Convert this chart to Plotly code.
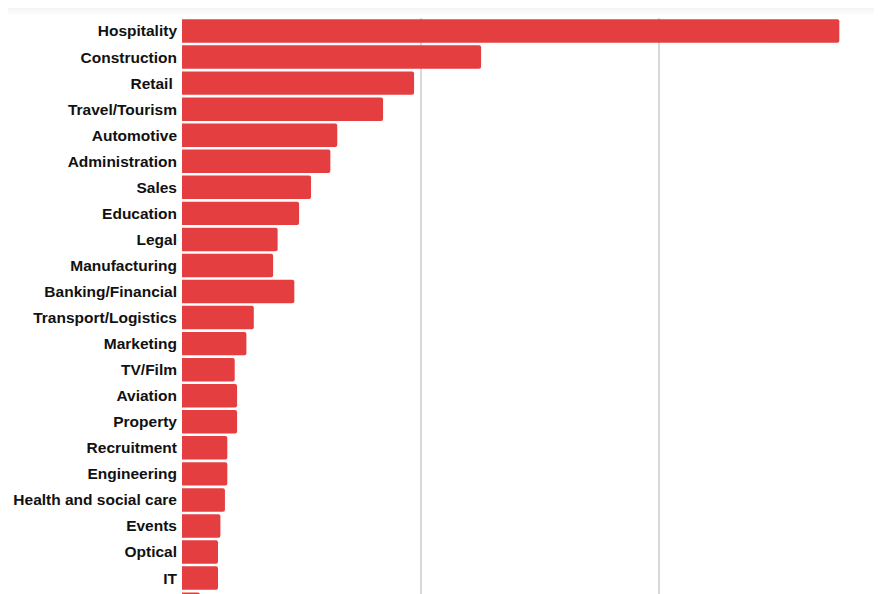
import plotly.graph_objects as go

categories = ["Hospitality", "Construction", "Retail\u00a0", "Travel/Tourism", "Automotive",
              "Administration", "Sales", "Education", "Legal", "Manufacturing",
              "Banking/Financial", "Transport/Logistics", "Marketing", "TV/Film", "Aviation",
              "Property", "Recruitment", "Engineering", "Health and social care", "Events",
              "Optical", "IT", " "]
values = [275.6, 125.4, 97.3, 84.3, 65.1, 62.2, 54.1, 49.1, 40.1, 38.2,
          47.1, 30.1, 27.0, 22.1, 23.1, 23.1, 19.0, 19.0, 18.0, 16.1,
          15.1, 15.1, 7.5]

OFF = 8  # page body margin
W, H = 882 - 2 * OFF, 594 - OFF
L, T = 182 - OFF, 18 - OFF
plot_h = H - T
ppu = 26.05
bottom_v = -0.5 + plot_h / ppu

fig = go.Figure(go.Bar(
    y=list(range(len(categories))), x=values, orientation="h",
    marker=dict(color="#e43e40", line=dict(width=0)),
    hoverinfo="skip",
))

shapes = []
for i in range(T):
    ref_y = i + OFF
    g = min(255, int(234 + 21 * ref_y / 15))
    shapes.append(dict(type="rect", xref="paper", yref="paper",
                       x0=-L / (W - L), x1=1,
                       y0=(H - i - 1) / plot_h, y1=(H - i) / plot_h,
                       fillcolor=f"rgb({g},{g},{g})", line=dict(width=0), layer="above"))

fig.update_layout(
    width=W, height=H,
    margin=dict(l=L, r=0, t=T, b=0, pad=0),
    paper_bgcolor="white", plot_bgcolor="white",
    bargap=0.1,
    barcornerradius=2,
    showlegend=False,
    shapes=shapes,
    font=dict(family="Liberation Sans, Arial, sans-serif", size=15.5, color="#111111"),
)
fig.update_xaxes(range=[0, (W - L) / 2.385], dtick=100, showgrid=True,
                 gridcolor="#d9d9d9", gridwidth=1.5, zeroline=False,
                 showticklabels=False, showline=False, ticks="")
fig.update_yaxes(range=[bottom_v, -0.5], tickmode="array",
                 tickvals=list(range(len(categories))), ticktext=categories,
                 showgrid=False, zeroline=False, showline=False, ticks="",
                 ticklabelstandoff=4,
                 tickfont=dict(family="Liberation Sans, Arial, sans-serif", size=15.5,
                               color="#111111", weight="bold"))

fig.write_html("out.html")
